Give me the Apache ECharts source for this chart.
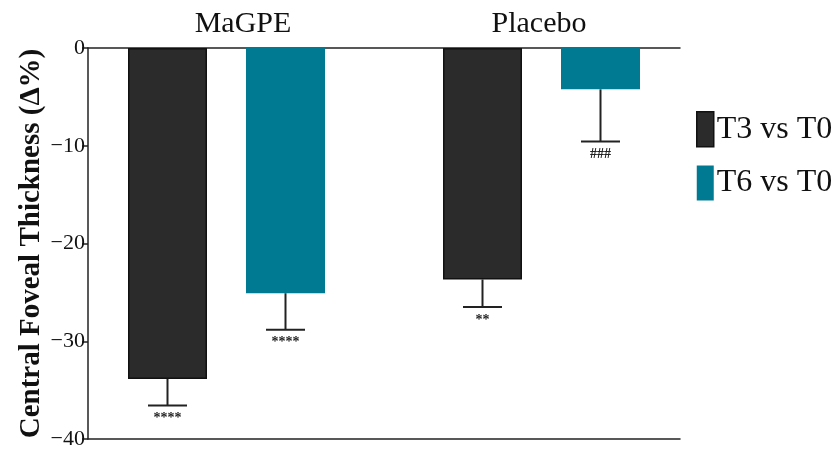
<!DOCTYPE html>
<html>
<head>
<meta charset="utf-8">
<script src="https://cdn.jsdelivr.net/npm/echarts@6/dist/echarts.min.js"></script>
<style>
  html, body { margin: 0; padding: 0; background: #fff; }
  #chart { width: 840px; height: 450px; }
</style>
</head>
<body>
<div id="chart"></div>
<script>
// data
const groups = ['MaGPE', 'Placebo']
const t3Mean = [-33.6, -23.5]
const t3Err = [2.7, 2.8]
const t3Sig = ['****', '**']
const t6Mean = [-24.9, -4.2]
const t6Err = [3.7, 5.3]
const t6Sig = ['****', '###']
const yMin = -40
const yMax = 0
const yStep = 10

const font = 'Liberation Serif'
const barW = 79
const barGapPx = 39
const capW = 39

// error bar + significance mark, drawn below the bar end
function errorBar(side, errs, sigs) {
  return function (params, api) {
    const i = api.value(0)
    const mean = api.value(1)
    const offset = side * (barW + barGapPx) / 2
    const top = api.coord([i, mean])
    const bot = api.coord([i, mean - errs[i]])
    const x = top[0] + offset
    const style = { stroke: '#222', lineWidth: 2 }
    return {
      type: 'group',
      children: [
        { type: 'line', shape: { x1: x, y1: top[1], x2: x, y2: bot[1] }, style },
        { type: 'line', shape: { x1: x - capW / 2, y1: bot[1], x2: x + capW / 2, y2: bot[1] }, style },
        {
          type: 'text',
          style: {
            x: x, y: bot[1] + 6, text: sigs[i], align: 'center', verticalAlign: 'top',
            fontFamily: font, fontSize: 14, fontWeight: 'bold', fill: '#222'
          }
        }
      ]
    }
  }
}

const chart = echarts.init(document.getElementById('chart'))
chart.setOption({
  animation: false,
  backgroundColor: '#fff',
  grid: [
    // frame: y axis, top and bottom lines
    { left: 88, right: 160, top: 48, bottom: 8 },
    // bars
    { left: 69, right: 141, top: 48, bottom: 8 }
  ],
  legend: {
    orient: 'vertical',
    left: 691,
    top: 106,
    icon: 'rect',
    itemWidth: 17,
    itemHeight: 35,
    itemGap: 18,
    selectedMode: false,
    textStyle: { fontFamily: font, fontSize: 32, color: '#111', padding: [0, 0, 0, -2] },
    data: [
      { name: 'T3 vs T0', itemStyle: { color: '#2b2b2b', borderColor: '#111', borderWidth: 1.5 } },
      { name: 'T6 vs T0', itemStyle: { color: '#007a93', borderWidth: 0 } }
    ]
  },
  xAxis: [
    {
      gridIndex: 0,
      type: 'category',
      position: 'top',
      data: groups,
      axisLine: { lineStyle: { color: '#222', width: 1.5 } },
      axisTick: { show: false },
      axisLabel: { fontFamily: font, fontSize: 30, color: '#111', margin: 9, padding: [0, 0, 0, 14] }
    },
    {
      gridIndex: 0,
      type: 'category',
      position: 'bottom',
      data: groups,
      axisLine: { lineStyle: { color: '#222', width: 1.5 } },
      axisTick: { show: false },
      axisLabel: { show: false }
    },
    {
      gridIndex: 1,
      type: 'category',
      data: groups,
      show: false
    }
  ],
  yAxis: [
    {
      gridIndex: 0,
      type: 'value',
      min: yMin,
      max: yMax,
      interval: yStep,
      name: 'Central Foveal Thickness (Δ%)',
      nameLocation: 'middle',
      nameGap: 42,
      nameMoveOverlap: false,
      nameTextStyle: { fontFamily: font, fontSize: 29, fontWeight: 'bold', color: '#111' },
      axisLine: { show: true, lineStyle: { color: '#222', width: 1.5 } },
      axisTick: { show: true, length: 6, lineStyle: { color: '#222', width: 1.5 } },
      axisLabel: {
        fontFamily: font, fontSize: 22, color: '#111', margin: 3,
        formatter: v => (v < 0 ? '\u2212' + Math.abs(v) : String(v))
      },
      splitLine: { show: false }
    },
    {
      gridIndex: 1,
      type: 'value',
      min: yMin,
      max: yMax,
      interval: yStep,
      show: false,
      splitLine: { show: false }
    }
  ],
  series: [
    {
      name: 'T3 vs T0',
      type: 'bar',
      xAxisIndex: 2,
      yAxisIndex: 1,
      barWidth: barW,
      barGap: (barGapPx / barW * 100) + '%',
      data: t3Mean,
      itemStyle: { color: '#2b2b2b', borderColor: '#111', borderWidth: 1.5 }
    },
    {
      name: 'T6 vs T0',
      type: 'bar',
      xAxisIndex: 2,
      yAxisIndex: 1,
      barWidth: barW,
      data: t6Mean,
      itemStyle: { color: '#007a93' }
    },
    {
      type: 'custom',
      xAxisIndex: 2,
      yAxisIndex: 1,
      renderItem: errorBar(-1, t3Err, t3Sig),
      data: t3Mean.map((v, i) => [i, v]),
      z: 5
    },
    {
      type: 'custom',
      xAxisIndex: 2,
      yAxisIndex: 1,
      renderItem: errorBar(1, t6Err, t6Sig),
      data: t6Mean.map((v, i) => [i, v]),
      z: 5
    }
  ]
})
</script>
</body>
</html>
